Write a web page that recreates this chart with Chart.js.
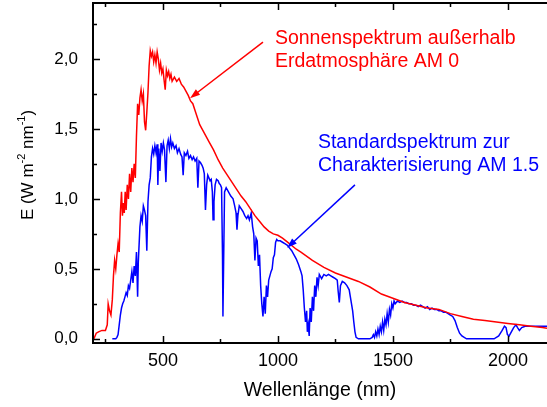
<!DOCTYPE html>
<html>
<head>
<meta charset="utf-8">
<script src="https://cdn.jsdelivr.net/npm/chart.js@4.4.0/dist/chart.umd.min.js"></script>
<style>
  body { margin: 0; background: #fff; }
  canvas { display: block; }
</style>
</head>
<body>
<canvas id="spectrum" width="547" height="407"></canvas>
<script>
// AM 0 (outside the atmosphere)
const am0Wavelength = [200, 210, 220, 235, 250, 258, 262, 268, 274, 280, 285, 290, 295, 300, 305, 310, 315, 320, 324, 328,
  332, 336, 340, 345, 350, 355, 360, 365, 370, 375, 380, 385, 390, 395, 400, 405, 410, 415, 420, 425,
  430, 435, 440, 445, 450, 455, 460, 465, 470, 475, 480, 485, 490, 495, 500, 505, 510, 515, 520, 525,
  530, 535, 540, 550, 560, 570, 580, 590, 600, 610, 620, 630, 640, 650, 660, 670, 680, 690, 700, 720,
  740, 760, 780, 800, 820, 840, 860, 880, 900, 920, 940, 960, 980, 1000, 1020, 1050, 1080, 1100, 1150, 1200,
  1250, 1300, 1350, 1400, 1450, 1500, 1550, 1600, 1650, 1700, 1750, 1800, 1850, 1900, 1950, 2000, 2050, 2100, 2150, 2170];
const am0Irradiance = [0.00, 0.04, 0.05, 0.06, 0.06, 0.10, 0.25, 0.20, 0.17, 0.28, 0.45, 0.56, 0.50, 0.60, 0.68, 0.62, 0.90, 1.05, 0.88, 0.97,
  0.90, 1.05, 0.92, 1.10, 1.00, 1.18, 1.05, 1.22, 1.12, 1.25, 1.15, 1.45, 1.68, 1.60, 1.72, 1.78, 1.70, 1.75, 1.55, 1.49,
  1.62, 1.76, 1.95, 2.06, 2.02, 2.05, 1.98, 2.03, 1.97, 2.05, 2.00, 1.92, 1.97, 1.90, 1.93, 1.85, 1.78, 1.92, 1.88, 1.91,
  1.86, 1.89, 1.84, 1.87, 1.84, 1.86, 1.82, 1.80, 1.77, 1.74, 1.70, 1.68, 1.63, 1.58, 1.53, 1.50, 1.47, 1.44, 1.41, 1.35,
  1.28, 1.22, 1.17, 1.12, 1.07, 1.02, 0.98, 0.93, 0.88, 0.84, 0.80, 0.77, 0.75, 0.74, 0.72, 0.68, 0.64, 0.62, 0.56, 0.51,
  0.47, 0.44, 0.41, 0.37, 0.32, 0.29, 0.26, 0.24, 0.22, 0.21, 0.18, 0.16, 0.14, 0.13, 0.12, 0.11, 0.10, 0.09, 0.08, 0.075];

// AM 1.5 (standard spectrum)
const am15Wavelength = [280, 295, 300, 305, 310, 315, 320, 325, 330, 335, 340, 345, 350, 355, 360, 365, 370, 375, 380, 385,
  390, 393, 400, 405, 410, 415, 420, 425, 430, 435, 440, 445, 450, 455, 460, 465, 470, 475, 478, 482,
  487, 492, 497, 502, 507, 513, 518, 523, 528, 533, 538, 543, 550, 557, 563, 570, 577, 583, 588, 593,
  600, 607, 613, 620, 627, 633, 640, 647, 652, 657, 663, 670, 675, 680, 685, 690, 695, 700, 705, 710,
  715, 718, 722, 727, 733, 740, 745, 750, 755, 759, 761, 764, 768, 775, 785, 795, 805, 812, 818, 822,
  826, 832, 840, 848, 856, 864, 870, 876, 884, 890, 895, 900, 905, 910, 915, 920, 925, 930, 935, 940,
  945, 950, 955, 960, 965, 970, 975, 980, 985, 990, 995, 1000, 1010, 1020, 1030, 1040, 1050, 1060, 1070, 1080,
  1090, 1100, 1105, 1110, 1115, 1120, 1125, 1128, 1132, 1136, 1140, 1145, 1150, 1155, 1160, 1165, 1170, 1175, 1180, 1190,
  1200, 1210, 1220, 1230, 1240, 1250, 1258, 1262, 1267, 1272, 1280, 1290, 1300, 1310, 1315, 1320, 1325, 1330, 1335, 1340,
  1350, 1400, 1410, 1415, 1420, 1425, 1430, 1435, 1440, 1445, 1450, 1455, 1460, 1465, 1470, 1475, 1480, 1485, 1490, 1495,
  1500, 1505, 1510, 1520, 1530, 1540, 1550, 1560, 1570, 1580, 1590, 1600, 1610, 1620, 1630, 1640, 1650, 1660, 1670, 1680,
  1690, 1700, 1710, 1720, 1730, 1740, 1750, 1760, 1770, 1780, 1790, 1800, 1810, 1820, 1900, 1940, 1960, 1975, 1985, 1992,
  1998, 2005, 2015, 2025, 2035, 2042, 2050, 2060, 2075, 2090, 2110, 2140, 2170];
const am15Irradiance = [0.00, 0.00, 0.01, 0.03, 0.10, 0.17, 0.22, 0.25, 0.27, 0.30, 0.33, 0.31, 0.38, 0.36, 0.42, 0.48, 0.40, 0.52, 0.45, 0.62,
  0.30, 0.55, 0.80, 0.88, 0.84, 0.95, 0.92, 0.88, 0.63, 0.98, 1.10, 1.15, 1.30, 1.36, 1.32, 1.38, 1.33, 1.39, 1.10, 1.36,
  1.20, 1.40, 1.34, 1.40, 1.35, 1.12, 1.38, 1.42, 1.36, 1.43, 1.37, 1.40, 1.36, 1.38, 1.33, 1.36, 1.32, 1.30, 1.17, 1.33,
  1.31, 1.34, 1.29, 1.31, 1.28, 1.30, 1.27, 1.29, 1.08, 1.27, 1.26, 1.24, 1.22, 1.18, 0.92, 1.10, 1.17, 1.15, 1.13, 1.14,
  1.05, 0.85, 0.98, 1.10, 1.14, 1.13, 1.11, 1.10, 1.08, 0.60, 0.16, 0.55, 1.05, 1.08, 1.05, 1.02, 1.00, 0.95, 0.90, 0.78,
  0.88, 0.95, 0.93, 0.91, 0.88, 0.86, 0.88, 0.85, 0.90, 0.80, 0.75, 0.56, 0.72, 0.70, 0.52, 0.60, 0.38, 0.25, 0.16, 0.30,
  0.18, 0.38, 0.30, 0.42, 0.45, 0.48, 0.50, 0.58, 0.60, 0.69, 0.71, 0.70, 0.70, 0.69, 0.68, 0.67, 0.65, 0.63, 0.60, 0.57,
  0.53, 0.48, 0.45, 0.35, 0.22, 0.12, 0.20, 0.05, 0.10, 0.02, 0.22, 0.12, 0.30, 0.20, 0.38, 0.30, 0.44, 0.38, 0.46, 0.43,
  0.46, 0.45, 0.46, 0.45, 0.44, 0.43, 0.42, 0.34, 0.26, 0.38, 0.41, 0.40, 0.38, 0.35, 0.30, 0.25, 0.20, 0.12, 0.05, 0.01,
  0.00, 0.00, 0.01, 0.03, 0.01, 0.05, 0.02, 0.07, 0.03, 0.09, 0.05, 0.12, 0.06, 0.14, 0.10, 0.18, 0.12, 0.21, 0.17, 0.25,
  0.22, 0.27, 0.25, 0.27, 0.26, 0.27, 0.26, 0.26, 0.25, 0.25, 0.24, 0.24, 0.23, 0.24, 0.23, 0.22, 0.23, 0.21, 0.22, 0.21,
  0.21, 0.20, 0.20, 0.19, 0.19, 0.18, 0.17, 0.16, 0.13, 0.08, 0.04, 0.02, 0.01, 0.00, 0.00, 0.00, 0.02, 0.06, 0.09, 0.08,
  0.03, 0.02, 0.05, 0.08, 0.10, 0.08, 0.06, 0.08, 0.09, 0.09, 0.09, 0.09, 0.09];

const xTickValues = [500, 1000, 1500, 2000];
const xMinorTicks = [250, 750, 1250, 1750];
const yTickValues = [0, 0.5, 1, 1.5, 2];
const yMinorTicks = [0.25, 0.75, 1.25, 1.75, 2.25];

const labelFont = '"Liberation Sans", Arial, sans-serif';

function toPoints(xs, ys) {
  return xs.map((v, i) => ({ x: v, y: ys[i] }));
}

// box with inward ticks, y title with superscripts
const axisBox = {
  id: 'axisBox',
  afterDraw(chart) {
    const { ctx, chartArea: a, scales: { x, y } } = chart;
    ctx.save();
    ctx.strokeStyle = '#000';
    ctx.lineWidth = 2;
    ctx.beginPath();
    ctx.moveTo(a.right, a.top);
    ctx.lineTo(a.left, a.top);
    ctx.lineTo(a.left, a.bottom);
    ctx.lineTo(a.right, a.bottom);
    ctx.stroke();

    ctx.lineWidth = 1.5;
    ctx.beginPath();
    const xTick = (v, len) => {
      const px = Math.round(x.getPixelForValue(v)) + 0.5;
      ctx.moveTo(px, a.bottom); ctx.lineTo(px, a.bottom - len);
      ctx.moveTo(px, a.top); ctx.lineTo(px, a.top + len);
    };
    const yTick = (v, len) => {
      const py = Math.round(y.getPixelForValue(v)) + 0.5;
      ctx.moveTo(a.left, py); ctx.lineTo(a.left + len, py);
    };
    xTickValues.forEach(v => xTick(v, 7));
    xMinorTicks.forEach(v => xTick(v, 4));
    yTickValues.forEach(v => yTick(v, 7));
    yMinorTicks.forEach(v => yTick(v, 4));
    ctx.stroke();

    // y axis title
    const big = '17px ' + labelFont;
    const small = '11px ' + labelFont;
    const parts = [['E (W m', big, 0], ['-2', small, -8], [' nm', big, 0], ['-1', small, -8], [')', big, 0]];
    let total = 0;
    parts.forEach(p => { ctx.font = p[1]; total += ctx.measureText(p[0]).width; });
    ctx.translate(33, (a.top + a.bottom) / 2 - 8);
    ctx.rotate(-Math.PI / 2);
    ctx.fillStyle = '#000';
    ctx.textBaseline = 'alphabetic';
    ctx.textAlign = 'left';
    let cx = -total / 2;
    parts.forEach(p => {
      ctx.font = p[1];
      ctx.fillText(p[0], cx, p[2]);
      cx += ctx.measureText(p[0]).width;
    });
    ctx.restore();
  }
};

// text notes with arrows, placed in data coordinates
const notes = [
  { color: '#ff0000', lines: ['Sonnenspektrum außerhalb', 'Erdatmosphäre AM 0'], at: [987, 2.11], from: [935, 2.12], to: [618, 1.72] },
  { color: '#0000ff', lines: ['Standardspektrum zur', 'Charakterisierung AM 1.5'], at: [1174, 1.365], from: [1335, 1.10], to: [1040, 0.65] }
];

const noteLayer = {
  id: 'noteLayer',
  afterDraw(chart) {
    const { ctx, scales: { x, y } } = chart;
    ctx.save();
    notes.forEach(n => {
      ctx.fillStyle = n.color;
      ctx.strokeStyle = n.color;
      ctx.font = '19.5px ' + labelFont;
      ctx.textAlign = 'left';
      ctx.textBaseline = 'alphabetic';
      const tx = x.getPixelForValue(n.at[0]);
      const ty = y.getPixelForValue(n.at[1]);
      n.lines.forEach((t, i) => ctx.fillText(t, tx, ty + i * 23));

      const x0 = x.getPixelForValue(n.from[0]), y0 = y.getPixelForValue(n.from[1]);
      const x1 = x.getPixelForValue(n.to[0]), y1 = y.getPixelForValue(n.to[1]);
      const ang = Math.atan2(y1 - y0, x1 - x0);
      ctx.lineWidth = 1.5;
      ctx.beginPath();
      ctx.moveTo(x0, y0);
      ctx.lineTo(x1 - 6 * Math.cos(ang), y1 - 6 * Math.sin(ang));
      ctx.stroke();
      ctx.beginPath();
      ctx.moveTo(x1, y1);
      ctx.lineTo(x1 - 10 * Math.cos(ang) + 3.5 * Math.sin(ang), y1 - 10 * Math.sin(ang) - 3.5 * Math.cos(ang));
      ctx.lineTo(x1 - 10 * Math.cos(ang) - 3.5 * Math.sin(ang), y1 - 10 * Math.sin(ang) + 3.5 * Math.cos(ang));
      ctx.closePath();
      ctx.fill();
    });
    ctx.restore();
  }
};

const spectrumChart = new Chart(document.getElementById('spectrum'), {
  type: 'line',
  data: {
    datasets: [{
      label: 'AM 0',
      data: toPoints(am0Wavelength, am0Irradiance),
      borderColor: '#ff0000',
      borderWidth: 1.5,
      pointRadius: 0,
      tension: 0
    }, {
      label: 'AM 1.5',
      data: toPoints(am15Wavelength, am15Irradiance),
      borderColor: '#0000ff',
      borderWidth: 1.5,
      pointRadius: 0,
      tension: 0
    }]
  },
  options: {
    responsive: false,
    animation: false,
    layout: { autoPadding: false, padding: { top: 3, right: 0, bottom: 0, left: 0 } },
    plugins: {
      legend: { display: false },
      tooltip: { enabled: false }
    },
    scales: {
      x: {
        type: 'linear',
        min: 196,
        max: 2170,
        grid: { display: false, drawTicks: false },
        border: { display: false },
        afterBuildTicks: s => { s.ticks = xTickValues.map(v => ({ value: v })); },
        afterFit: s => { s.height = 64; s.paddingLeft = 0; s.paddingRight = 0; },
        ticks: {
          padding: 7,
          color: '#000',
          font: { family: labelFont, size: 18 },
          maxRotation: 0,
          callback: v => String(v)
        },
        title: {
          display: true,
          text: 'Wellenlänge (nm)',
          color: '#000',
          font: { family: labelFont, size: 19.5 },
          padding: { top: 0, bottom: 5 }
        }
      },
      y: {
        type: 'linear',
        min: -0.03,
        max: 2.4,
        grid: { display: false, drawTicks: false },
        border: { display: false },
        afterBuildTicks: s => { s.ticks = yTickValues.map(v => ({ value: v })); },
        afterFit: s => { s.width = 93; s.paddingTop = 0; s.paddingBottom = 0; },
        ticks: {
          padding: 15,
          color: '#000',
          font: { family: labelFont, size: 17 },
          callback: v => v.toFixed(1).replace('.', ',')
        }
      }
    }
  },
  plugins: [axisBox, noteLayer]
});
</script>
</body>
</html>
